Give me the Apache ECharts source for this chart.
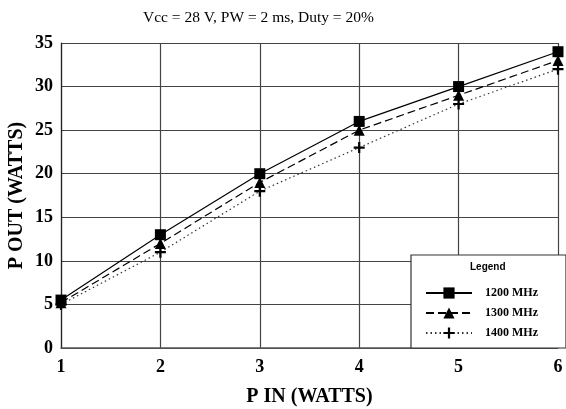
<!DOCTYPE html>
<html>
<head>
    <meta charset="utf-8">
    <title></title>
    <style type="text/css">
        html, body { height: 100%; }
        body { margin: 0; padding: 0; background: #fff; }
        #main { width: 566px; height: 409px; }
    </style>
</head>
<body>
    <div id="main"></div>
    <script src="https://cdn.jsdelivr.net/npm/echarts@6/dist/echarts.min.js"></script>
    <script type="text/javascript">
        // P IN (watts)
        var pIn = [1, 2, 3, 4, 5, 6];
        // P OUT (watts) per frequency
        var out1200 = [5.5, 13, 20, 26, 30, 34];
        var out1300 = [5.2, 12, 19, 25, 29, 33];
        var out1400 = [5, 11, 18, 23, 28, 32];
        var names = ['1200 MHz', '1300 MHz', '1400 MHz'];

        var plusPath = 'path://M4,0L6,0L6,4L10,4L10,6L6,6L6,10L4,10L4,6L0,6L0,4L4,4Z';
        var serif = '"Liberation Serif", "Times New Roman", serif';

        function pairs(ys) {
            return ys.map(function (y, i) { return [pIn[i], y]; });
        }

        var myChart = echarts.init(document.getElementById('main'));
        myChart.setOption({
            animation: false,
            backgroundColor: '#fff',
            title: {
                text: 'Vcc = 28 V, PW = 2 ms, Duty = 20%',
                left: 138,
                top: 5,
                textStyle: { fontFamily: serif, fontSize: 15.5, fontWeight: 'normal', color: '#000' }
            },
            grid: { left: 61, right: 8, top: 43, bottom: 61, outerBoundsMode: 'none' },
            legend: {
                data: names,
                orient: 'vertical',
                left: 411,
                bottom: 61,
                width: 154,
                backgroundColor: '#fff',
                borderColor: '#333',
                borderWidth: 1.2,
                borderRadius: 0,
                padding: [32, 28, 9, 14],
                itemWidth: 46,
                itemHeight: 14,
                itemGap: 8,
                textStyle: { fontFamily: serif, fontSize: 12, fontWeight: 'bold', color: '#000', padding: [0, 0, 0, 8] },
                z: 10
            },
            graphic: [{
                type: 'text',
                left: 470,
                top: 262,
                z: 100,
                style: { text: 'Legend', font: 'bold 10px "Liberation Sans", Arial, sans-serif', fill: '#000' }
            }],
            xAxis: {
                type: 'value',
                min: 1,
                max: 6,
                interval: 1,
                name: 'P IN (WATTS)',
                nameLocation: 'middle',
                nameGap: 39,
                nameTextStyle: { fontFamily: serif, fontSize: 20, fontWeight: 'bold', color: '#000' },
                axisLine: { lineStyle: { color: '#555', width: 1.5 } },
                axisTick: { show: false },
                axisLabel: { margin: 10, fontFamily: serif, fontSize: 18, fontWeight: 'bold', color: '#000' },
                splitLine: { lineStyle: { color: '#444', width: 1.2 } }
            },
            yAxis: {
                type: 'value',
                min: 0,
                max: 35,
                interval: 5,
                name: 'P OUT (WATTS)',
                nameLocation: 'middle',
                nameGap: 34,
                nameMoveOverlap: false,
                nameTextStyle: { fontFamily: serif, fontSize: 20, fontWeight: 'bold', color: '#000' },
                axisLine: { show: true, lineStyle: { color: '#222', width: 1.2 } },
                axisTick: { show: false },
                axisLabel: { margin: 8, fontFamily: serif, fontSize: 18, fontWeight: 'bold', color: '#000' },
                splitLine: { lineStyle: { color: '#444', width: 1.2 } }
            },
            series: [{
                name: names[0],
                type: 'line',
                data: pairs(out1200),
                symbol: 'rect',
                symbolSize: 11,
                itemStyle: { color: '#000' },
                lineStyle: { color: '#000', width: 1.2, type: 'solid' },
                z: 5
            }, {
                name: names[1],
                type: 'line',
                data: pairs(out1300),
                symbol: 'triangle',
                symbolSize: 11,
                itemStyle: { color: '#000' },
                lineStyle: { color: '#000', width: 1.2, type: [8, 4] },
                z: 4
            }, {
                name: names[2],
                type: 'line',
                data: pairs(out1400),
                symbol: plusPath,
                symbolSize: 11,
                itemStyle: { color: '#000' },
                lineStyle: { color: '#333', width: 1.2, type: [1.5, 3] },
                z: 3
            }]
        });
    </script>
</body>
</html>
